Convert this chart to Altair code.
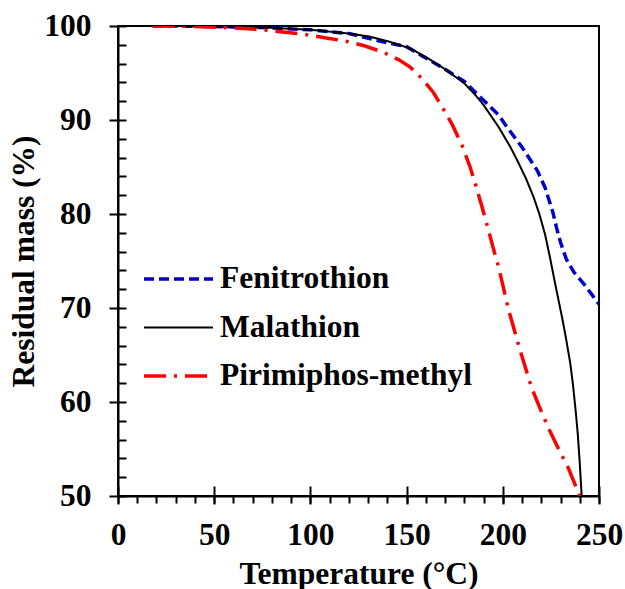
import altair as alt
import pandas as pd

# ---- data ----
names = ["Fenitrothion", "Malathion", "Pirimiphos-methyl"]

fen_T = [18, 40, 60, 80, 100, 120, 136, 150, 160, 170, 180, 186, 192, 198, 202, 210, 218, 222, 226, 228, 230, 233, 237, 242, 246, 250]
fen_M = [100, 99.98, 99.9, 99.8, 99.6, 99.2, 98.4, 97.8, 96.6, 95.4, 94.1, 92.9, 91.7, 90.5, 89.3, 87.1, 84.6, 82.8, 80.2, 78.5, 77.0, 75.2, 73.8, 72.6, 71.5, 70.4]

mal_T = [18, 40, 60, 80, 100, 120, 130, 140, 152, 160, 170, 180, 186, 190, 194, 198, 204, 208, 212, 216, 219, 222, 224.5, 227, 229, 231, 233, 235, 236.5, 238, 239, 240, 241]
mal_M = [100, 99.98, 99.9, 99.8, 99.6, 99.2, 98.9, 98.4, 97.6, 96.7, 95.4, 93.9, 92.6, 91.6, 90.4, 89.2, 87.1, 85.5, 83.8, 81.8, 80.0, 77.8, 75.4, 72.8, 70.8, 68.8, 66.6, 64.2, 61.8, 58.8, 56.5, 53.5, 50.0]

pir_T = [18, 40, 60, 75, 96, 109, 118, 128, 138, 146, 152, 158, 164, 169, 174, 179, 183, 186, 189, 192, 195, 198, 203, 209, 215, 220, 224, 229, 234, 240]
pir_M = [100, 99.95, 99.8, 99.6, 99.15, 98.7, 98.4, 97.9, 97.2, 96.4, 95.6, 94.4, 92.9, 91.2, 89.4, 87.2, 85.0, 83.0, 80.9, 78.7, 76.4, 74.2, 69.8, 65.5, 61.5, 59.0, 57.1, 55.0, 53.0, 50.0]

x_major = [0, 50, 100, 150, 200, 250]
x_minor = list(range(0, 251, 10))
y_major = [50, 60, 70, 80, 90, 100]
y_minor = list(range(50, 101, 2))

colors = ["#0000CC", "#000000", "#FF0000"]
dashes = [[10, 5], [1, 0], [22, 8, 3, 8]]
widths = [3.5, 2, 3.5]

rows = []
for name, T, M in [(names[0], fen_T, fen_M), (names[1], mal_T, mal_M), (names[2], pir_T, pir_M)]:
    rows += [{"compound": name, "T": t, "M": m} for t, m in zip(T, M)]
df = pd.DataFrame(rows)

FONT = "Liberation Serif"
FS = 31.5
xs = alt.Scale(domain=[0, 250], nice=False, zero=False)
ys = alt.Scale(domain=[50, 100], nice=False, zero=False)

leg = alt.Legend(
    title=None, orient="none", legendX=24, legendY=238, direction="vertical",
    symbolType="stroke", symbolSize=4761, clipHeight=30,
    rowPadding=16.5, labelOffset=5, padding=0, labelLimit=500,
    labelFont=FONT, labelFontSize=FS, labelFontWeight="bold", labelColor="black",
    labelBaseline="middle",
)

lines = alt.Chart(df).mark_line(clip=True).encode(
    x=alt.X("T:Q", scale=xs, axis=alt.Axis(
        orient="bottom", values=x_major, title="Temperature (°C)", tickSize=8,
        labelPadding=15, titleBaseline="alphabetic", titleY=87)),
    y=alt.Y("M:Q", scale=ys, axis=alt.Axis(
        orient="left", values=y_major, title="Residual mass (%)", tickSize=9,
        labelPadding=18, titleX=-78)),
    color=alt.Color("compound:N", scale=alt.Scale(domain=names, range=colors), legend=leg),
    strokeDash=alt.StrokeDash("compound:N", scale=alt.Scale(domain=names, range=dashes), legend=leg),
    strokeWidth=alt.StrokeWidth("compound:N", scale=alt.Scale(type="ordinal", domain=names, range=widths), legend=leg),
    order="T:Q",
)

tick_base = alt.Chart(df).mark_line(opacity=0)

x_minor_layer = tick_base.encode(
    x=alt.X("T:Q", scale=xs, axis=alt.Axis(orient="bottom", values=x_minor, tickSize=7,
                                           labels=False, domain=False, title=None)),
    y=alt.Y("M:Q", scale=ys, axis=None),
    detail="compound:N",
)
x_inner_layer = tick_base.encode(
    x=alt.X("T:Q", scale=xs, axis=alt.Axis(orient="bottom", values=x_major, tickSize=10, offset=-10,
                                           labels=False, domain=False, title=None)),
    y=alt.Y("M:Q", scale=ys, axis=None),
    detail="compound:N",
)
y_inner_layer = tick_base.encode(
    x=alt.X("T:Q", scale=xs, axis=None),
    y=alt.Y("M:Q", scale=ys, axis=alt.Axis(orient="left", values=y_minor, tickSize=8, offset=-8,
                                           labels=False, domain=False, title=None)),
    detail="compound:N",
)

chart = alt.layer(lines, x_minor_layer, x_inner_layer, y_inner_layer).resolve_axis(
    x="independent", y="independent"
).properties(
    width=481, height=470,
    autosize=alt.AutoSizeParams(type="none"),
    padding={"left": 118, "top": 26, "right": 26, "bottom": 93},
).configure_view(
    stroke="black", strokeWidth=2
).configure_axis(
    grid=False, domainColor="black", domainWidth=2, tickColor="black", tickWidth=2,
    labelFont=FONT, labelFontSize=FS, labelFontWeight="bold", labelColor="black",
    titleFont=FONT, titleFontSize=FS, titleFontWeight="bold", titleColor="black",
    labelOverlap=False, labelFlush=False,
)

chart.save("out.html", embed_options={"renderer": "svg", "actions": False})
